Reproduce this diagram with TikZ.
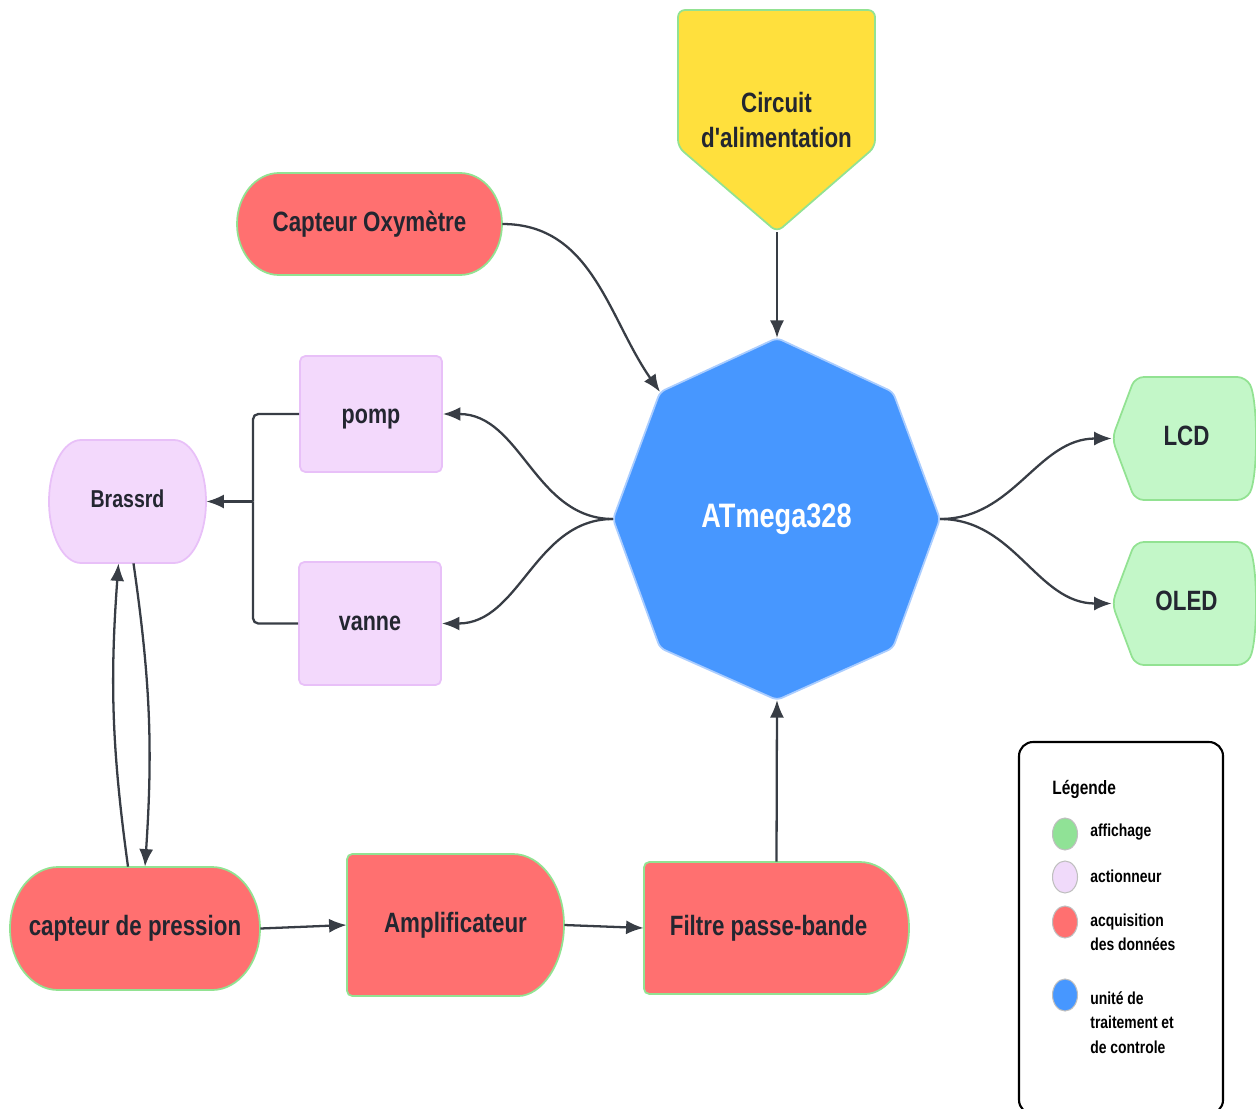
\documentclass[tikz,border=0pt]{standalone}
\usepackage{fontspec}
\setmainfont[FakeStretch=0.8,Ligatures=TeXOff]{Liberation Sans}
\usetikzlibrary{arrows.meta,positioning}

\definecolor{rouge}{RGB}{255,112,112}
\definecolor{bordvert}{RGB}{146,226,146}
\definecolor{jaune}{RGB}{255,224,61}
\definecolor{vertclair}{RGB}{195,247,200}
\definecolor{violet}{RGB}{243,217,252}
\definecolor{bordviolet}{RGB}{232,192,248}
\definecolor{bleu}{RGB}{71,151,255}
\definecolor{bordbleu}{RGB}{170,205,255}
\definecolor{texte}{RGB}{35,38,48}
\definecolor{fleche}{RGB}{56,61,69}
\definecolor{legvert}{RGB}{144,226,150}
\definecolor{legviolet}{RGB}{240,218,250}

\tikzset{
  acq/.style={fill=rouge, draw=bordvert, line width=1pt},
  act/.style={fill=violet, draw=bordviolet, line width=1pt},
  aff/.style={fill=vertclair, draw=bordvert, line width=1pt},
  lbl/.style={text=texte, font=\bfseries\fontsize{15.9pt}{19.8pt}\selectfont, align=center, inner sep=0pt},
  ctr/.style={lbl, text height=11.4pt, text depth=3.3pt},
  fl/.style={draw=fleche, line width=1.3pt},
  arr/.style={fl, -{Latex[length=10pt,width=8pt]}},
  leg/.style={text=black, font=\bfseries\fontsize{9.9pt}{13.9pt}\selectfont, align=left, anchor=west, inner sep=0pt},
}

\begin{document}
\begin{tikzpicture}[x=0.02cm, y=-0.02cm]
  \useasboundingbox (0,0) rectangle (1256,1108);

  % formes
  \draw[fill=jaune, draw=bordvert, line width=1pt, rounded corners=4pt]
    (678,10) -- (875,10) -- (875,147) -- (777,232) coordinate (alimP) -- (678,147) -- cycle;
  \draw[acq] (279,173) -- (460,173) arc[start angle=-90, end angle=90, x radius=42, y radius=51]
    -- (279,275) arc[start angle=90, end angle=270, x radius=42, y radius=51] -- cycle;
  \draw[fill=bleu, draw=bordbleu, line width=1pt, rounded corners=3pt]
    (777,338) coordinate (mT) -- (893,392) -- (940,519) coordinate (mE) -- (893,648)
    -- (777,700) coordinate (mS) -- (660,648) -- (613,519) coordinate (mW)
    -- (660,392) coordinate (mNW) -- cycle;
  \draw[act] (81,440) -- (174,440) arc[start angle=-90, end angle=90, x radius=32, y radius=61.5]
    -- (81,563) arc[start angle=90, end angle=270, x radius=32, y radius=61.5] -- cycle;
  \draw[acq] (58,867) -- (212,867) arc[start angle=-90, end angle=90, x radius=48, y radius=61.5]
    -- (58,990) arc[start angle=90, end angle=270, x radius=48, y radius=61.5] -- cycle;
  \draw[acq, rounded corners=3pt] (513,854) -- (347,854) -- (347,996) -- (513,996)
    [sharp corners] arc[start angle=90, end angle=-90, x radius=51, y radius=71] -- cycle;
  \draw[acq, rounded corners=3pt] (860,862) -- (644,862) -- (644,994) -- (860,994)
    [sharp corners] arc[start angle=90, end angle=-90, x radius=49, y radius=66] -- cycle;
  \draw[aff, rounded corners=5pt] (1112,438.5) -- (1135,377) -- (1246,377)
    .. controls (1258,400) and (1258,477) .. (1246,500) -- (1135,500) -- cycle;
  \draw[aff, rounded corners=5pt] (1112,603.5) -- (1135,542) -- (1246,542)
    .. controls (1258,565) and (1258,642) .. (1246,665) -- (1135,665) -- cycle;

  % textes
  \node[lbl] (alim) at (776.5,120) {Circuit\\d'alimentation};
  \node[ctr, minimum width=5.3cm, minimum height=2.04cm] (oxy) at (369.5,224) {Capteur Oxymètre};
  \node[ctr, text=white, font=\bfseries\fontsize{19.3pt}{23pt}\selectfont,
        text height=13.9pt, text depth=4pt] (mcu) at (776.5,519) {ATmega328};
  \node[act, ctr, rounded corners=3pt, minimum width=2.84cm, minimum height=2.32cm,
        font=\bfseries\fontsize{15.3pt}{18pt}\selectfont, text height=14pt, text depth=3.2pt] (pomp) at (371,414) {pomp};
  \node[act, ctr, rounded corners=3pt, minimum width=2.84cm, minimum height=2.46cm,
        font=\bfseries\fontsize{15.3pt}{18pt}\selectfont, text height=11pt, text depth=3.2pt] (vanne) at (370,623.5) {vanne};
  \node[ctr, minimum width=3.14cm, minimum height=2.46cm,
        font=\bfseries\fontsize{13.9pt}{16pt}\selectfont, text height=10pt, text depth=2.9pt] (br) at (127.5,501.5) {Brassrd};
  \node[ctr, minimum width=5cm, minimum height=2.46cm] (cp) at (135,928.5) {capteur de pression};
  \node[ctr, minimum width=4.34cm, minimum height=2.84cm] (amp) at (455.5,925) {Amplificateur};
  \node[ctr, minimum width=5.3cm, minimum height=2.64cm] (filt) at (776.5,928) {Filtre passe-bande\hspace{9pt}};
  \node[ctr, minimum width=2.84cm, minimum height=2.46cm] (lcd) at (1183,438.5) {\hspace{4pt}LCD};
  \node[ctr, minimum width=2.84cm, minimum height=2.46cm] (oled) at (1183,603.5) {\hspace{4pt}OLED};
  \coordinate (jn) at (253,501.5);

  % liaisons
  \draw[arr] (alimP) -- (mT);
  \draw[arr] (oxy.east) to[out=0, in=125] (mNW);
  \draw[arr] (mW) to[out=180, in=0] (pomp.east);
  \draw[arr] (mW) to[out=180, in=0] (vanne.east);
  \draw[fl, rounded corners=3pt] (pomp.west) -| (jn);
  \draw[fl, rounded corners=3pt] (vanne.west) -| (jn);
  \draw[arr] (jn) -- (br.east);
  \draw[arr] ([xshift=-0.14cm]cp.north) to[bend left=6] ([xshift=-0.18cm]br.south);
  \draw[arr] ([xshift=0.12cm]br.south) to[bend left=6] ([xshift=0.2cm]cp.north);
  \draw[arr] (cp.east) -- (amp.west);
  \draw[arr] (amp.east) -- (filt.west);
  \draw[arr] (filt.north) -- (mS);
  \draw[arr] (mE) to[out=0, in=180] (lcd.west);
  \draw[arr] (mE) to[out=0, in=180] (oled.west);

  % legende
  \draw[line width=1.2pt, rounded corners=8pt] (1019,742) rectangle (1223,1114);
  \node[leg, font=\bfseries\fontsize{11pt}{14pt}\selectfont] (legT) at (1052,789) {Légende};
  \foreach \c/\y in {legvert/834, legviolet/877, rouge/922, bleu/995}
    \draw[fill=\c, draw=black!25, line width=0.6pt] (1065,\y) ellipse [x radius=12.5, y radius=16];
  \node[leg] (l1) at (1090,832) {affichage};
  \node[leg] (l2) at (1090,876) {actionneur};
  \node[leg] (l3) at (1090,932.5) {acquisition\\des données};
  \node[leg] (l4) at (1090,1022.5) {unité de\\traitement et\\de controle};
\end{tikzpicture}
\end{document}
